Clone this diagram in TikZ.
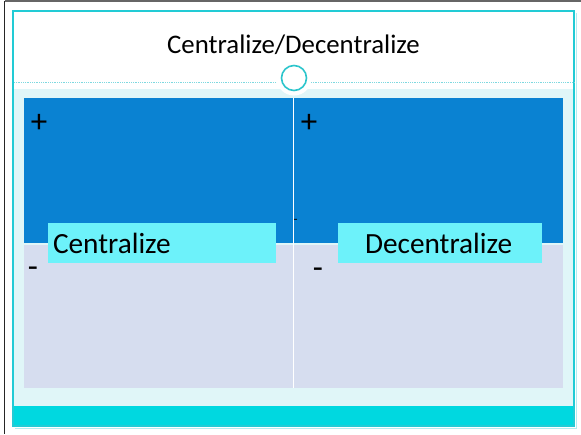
\documentclass[tikz,border=0pt]{standalone}
\usepackage{fontspec}
\setmainfont{Carlito}
\definecolor{frameCyan}{HTML}{22CBD5}
\definecolor{paleCyan}{HTML}{E0F6F8}
\definecolor{bandCyan}{HTML}{00D8E0}
\definecolor{proBlue}{HTML}{0A82D2}
\definecolor{conLav}{HTML}{D6DDEF}
\definecolor{tagCyan}{HTML}{6DF2FA}
\definecolor{ringCyan}{HTML}{2CC5CC}
\definecolor{dotCyan}{HTML}{7ED9E0}
\tikzset{
  every node/.style={inner sep=0pt, outer sep=0pt},
  tagbox/.style={fill=tagCyan, draw=none},
  tagtext/.style={anchor=base west, font=\fontsize{29.3}{31}\selectfont},
  signtext/.style={anchor=base, font=\fontsize{33}{35}\selectfont},
}
\begin{document}
\begin{tikzpicture}[x=1pt,y=-1pt]
  \useasboundingbox (0,0) rectangle (581,434);
  \fill[white] (0,0) rectangle (581,434);
  % outer page edges
  \draw[gray!80!black, line width=1.2pt] (4.5,1) -- (581,1);
  \draw[black!85, line width=1.5pt] (4.5,1) -- (4.5,434);
  % slide frame and its faint shadow
  \draw[frameCyan!35, line width=1pt] (576,13) -- (576,428) -- (15,428);
  % pale content area
  \fill[paleCyan] (14,89) rectangle (574,406);
  % bottom band
  \fill[bandCyan] (14,406) rectangle (574,425);
  \draw[frameCyan, line width=1.2pt] (13,11) rectangle (574,426);
  % dotted header rule
  \draw[dotCyan, densely dotted, line width=0.8pt] (14,82) -- (574,82);
  % ring with white halo
  \fill[white] (294,78) circle (17.5);
  \draw[ringCyan, line width=1.6pt, fill=white] (294,78) circle (12.5);
  % title
  \node[anchor=base, font=\fontsize{26.8}{28}\selectfont] (title) at (293.5,53) {Centralize/Decentralize};
  % pros row and cons row
  \fill[proBlue] (24,98) rectangle (563,242.5);
  \fill[conLav] (24,244.5) rectangle (563,388);
  \draw[white, line width=1pt] (293.5,98) -- (293.5,388);
  % signs
  \node[signtext] (plusL) at (39,132) {+};
  \node[signtext] (plusR) at (309,132) {+};
  \node[signtext] (minusL) at (33,277) {-};
  \node[signtext] (minusR) at (318,278) {-};
  \node[anchor=base, font=\fontsize{13}{14}\selectfont] (tick) at (295.5,223) {-};
  % column labels
  \fill[tagbox] (48,223) rectangle (276,263);
  \node[tagtext] (lblC) at (53,253) {Centralize};
  \fill[tagbox] (338,223) rectangle (542,263);
  \node[tagtext] (lblD) at (365,253) {Decentralize};
\end{tikzpicture}
\end{document}
